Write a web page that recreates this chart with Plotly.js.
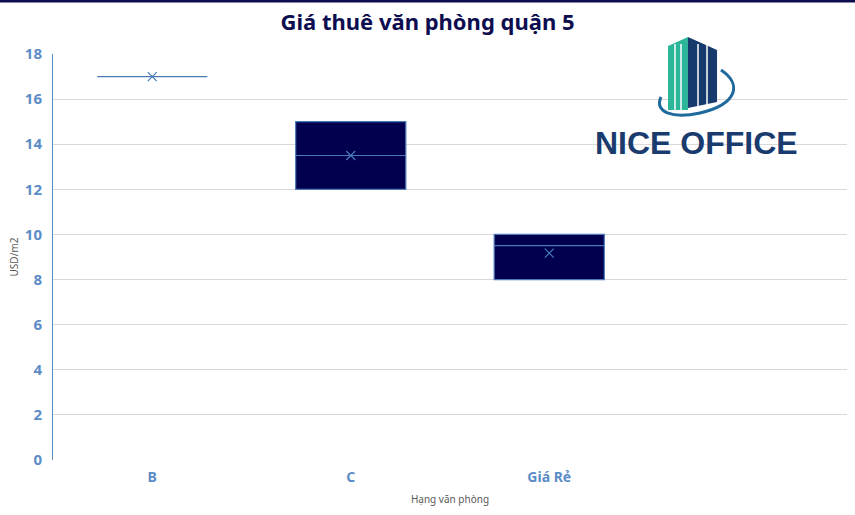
<!DOCTYPE html>
<html>
<head>
<meta charset="utf-8">
<script src="https://cdn.plot.ly/plotly-3.0.1.min.js"></script>
<style>html,body{margin:0;padding:0;background:#fff;}#chart{width:855px;height:515px;}</style>
</head>
<body>
<div id="chart"></div>
<script>
// ---- data ----
var categories = ['B', 'C', 'Giá Rẻ'];
var allCategories = ['B', 'C', 'Giá Rẻ', ' '];
var q1Values = [17, 12, 8];
var medianValues = [17, 13.5, 9.5];
var q3Values = [17, 15, 10];
var meanValues = [17, 13.5, 9.17];
var yTickValues = [0, 2, 4, 6, 8, 10, 12, 14, 16, 18];

// ---- layout helpers (pixel -> paper) ----
var L = 53, R = 847, T = 54, B = 460;
function px(x) { return (x - L) / (R - L); }
function py(y) { return (B - y) / (B - T); }
function pt(x, y) { return px(x).toFixed(4) + ',' + py(y).toFixed(4); }

var boxTrace = {
  type: 'box',
  x: categories,
  q1: q1Values,
  median: medianValues,
  q3: q3Values,
  lowerfence: q1Values,
  upperfence: q3Values,
  fillcolor: '#00004e',
  line: { color: '#4a7ab8', width: 1.2 },
  width: 0.555,
  whiskerwidth: 0,
  hoverinfo: 'skip',
  showlegend: false
};

var meanTrace = {
  type: 'scatter',
  mode: 'markers',
  x: categories,
  y: meanValues,
  marker: { symbol: 'x-thin-open', size: 9, color: '#4a7ab8', line: { width: 1.2, color: '#4a7ab8' } },
  hoverinfo: 'skip',
  showlegend: false
};

var shapes = [
  // top navy rule
  { type: 'rect', xref: 'paper', yref: 'paper', x0: px(0), x1: px(855), y0: py(0), y1: py(2.5),
    fillcolor: '#0b0b4f', line: { width: 0 }, layer: 'above' },
  // logo: teal part
  { type: 'path', xref: 'paper', yref: 'paper',
    path: 'M ' + pt(668, 46) + ' L ' + pt(688, 37) + ' L ' + pt(688, 110) + ' L ' + pt(668, 110) + ' Z',
    fillcolor: '#2bb69a', line: { width: 0 }, layer: 'above' },
  // logo: navy part
  { type: 'path', xref: 'paper', yref: 'paper',
    path: 'M ' + pt(688, 37) + ' L ' + pt(717, 50) + ' L ' + pt(717, 102) + ' L ' + pt(688, 108) + ' Z',
    fillcolor: '#173a6c', line: { width: 0 }, layer: 'above' }
];
[675, 681, 698, 707].forEach(function (x) {
  shapes.push({ type: 'line', xref: 'paper', yref: 'paper', x0: px(x), x1: px(x), y0: py(44), y1: py(111),
    line: { color: '#ffffff', width: 1.5 }, layer: 'above' });
});
// swoosh
shapes.push({ type: 'path', xref: 'paper', yref: 'paper',
  path: 'M ' + pt(721, 70) + ' C ' + pt(742, 84) + ' ' + pt(738, 104) + ' ' + pt(700, 113) +
        ' C ' + pt(672, 119) + ' ' + pt(654, 112) + ' ' + pt(661, 97),
  line: { color: '#1f6a9c', width: 3 }, layer: 'above' });

var layout = {
  width: 855, height: 515,
  margin: { l: L, r: 855 - R, t: T, b: 515 - B, pad: 0 },
  paper_bgcolor: '#ffffff', plot_bgcolor: '#ffffff',
  font: { family: 'Noto Sans, sans-serif' },
  title: {
    text: 'Giá thuê văn phòng quận 5',
    font: { family: 'Noto Sans', size: 22, color: '#0d0d50', weight: 'bold' },
    x: 0.5, xanchor: 'center', y: 1 - 22 / 515, yanchor: 'middle'
  },
  xaxis: {
    type: 'category',
    categoryorder: 'array', categoryarray: allCategories,
    range: [-0.5, 3.5],
    showgrid: false, zeroline: false, showline: false,
    ticks: '', tickvals: categories,
    tickfont: { family: 'Noto Sans', size: 14, color: '#5b8cc6', weight: 'bold' },
    ticklabelstandoff: 7,
    title: { text: 'Hạng văn phòng', font: { family: 'Noto Sans', size: 10, color: '#595959' }, standoff: 10 },
    fixedrange: true
  },
  yaxis: {
    range: [0, 18],
    tickvals: yTickValues,
    showgrid: true, gridcolor: '#d9d9d9', gridwidth: 1,
    zeroline: false,
    showline: true, linecolor: '#5b8cc6', linewidth: 1,
    ticks: '',
    tickfont: { family: 'Noto Sans', size: 15, color: '#5b8cc6', weight: 'bold' },
    ticklabelstandoff: 7,
    title: { text: 'USD/m2', font: { family: 'Noto Sans', size: 10, color: '#595959' }, standoff: 4 },
    fixedrange: true
  },
  shapes: shapes,
  annotations: [
    { xref: 'paper', yref: 'paper', x: px(696), y: py(143), xanchor: 'center', yanchor: 'middle',
      text: 'NICE OFFICE', showarrow: false,
      font: { family: 'Liberation Sans', size: 32, color: '#1a3b6e', weight: 'bold' } }
  ]
};

Plotly.newPlot('chart', [boxTrace, meanTrace], layout, { displayModeBar: false, staticPlot: true });
</script>
</body>
</html>
